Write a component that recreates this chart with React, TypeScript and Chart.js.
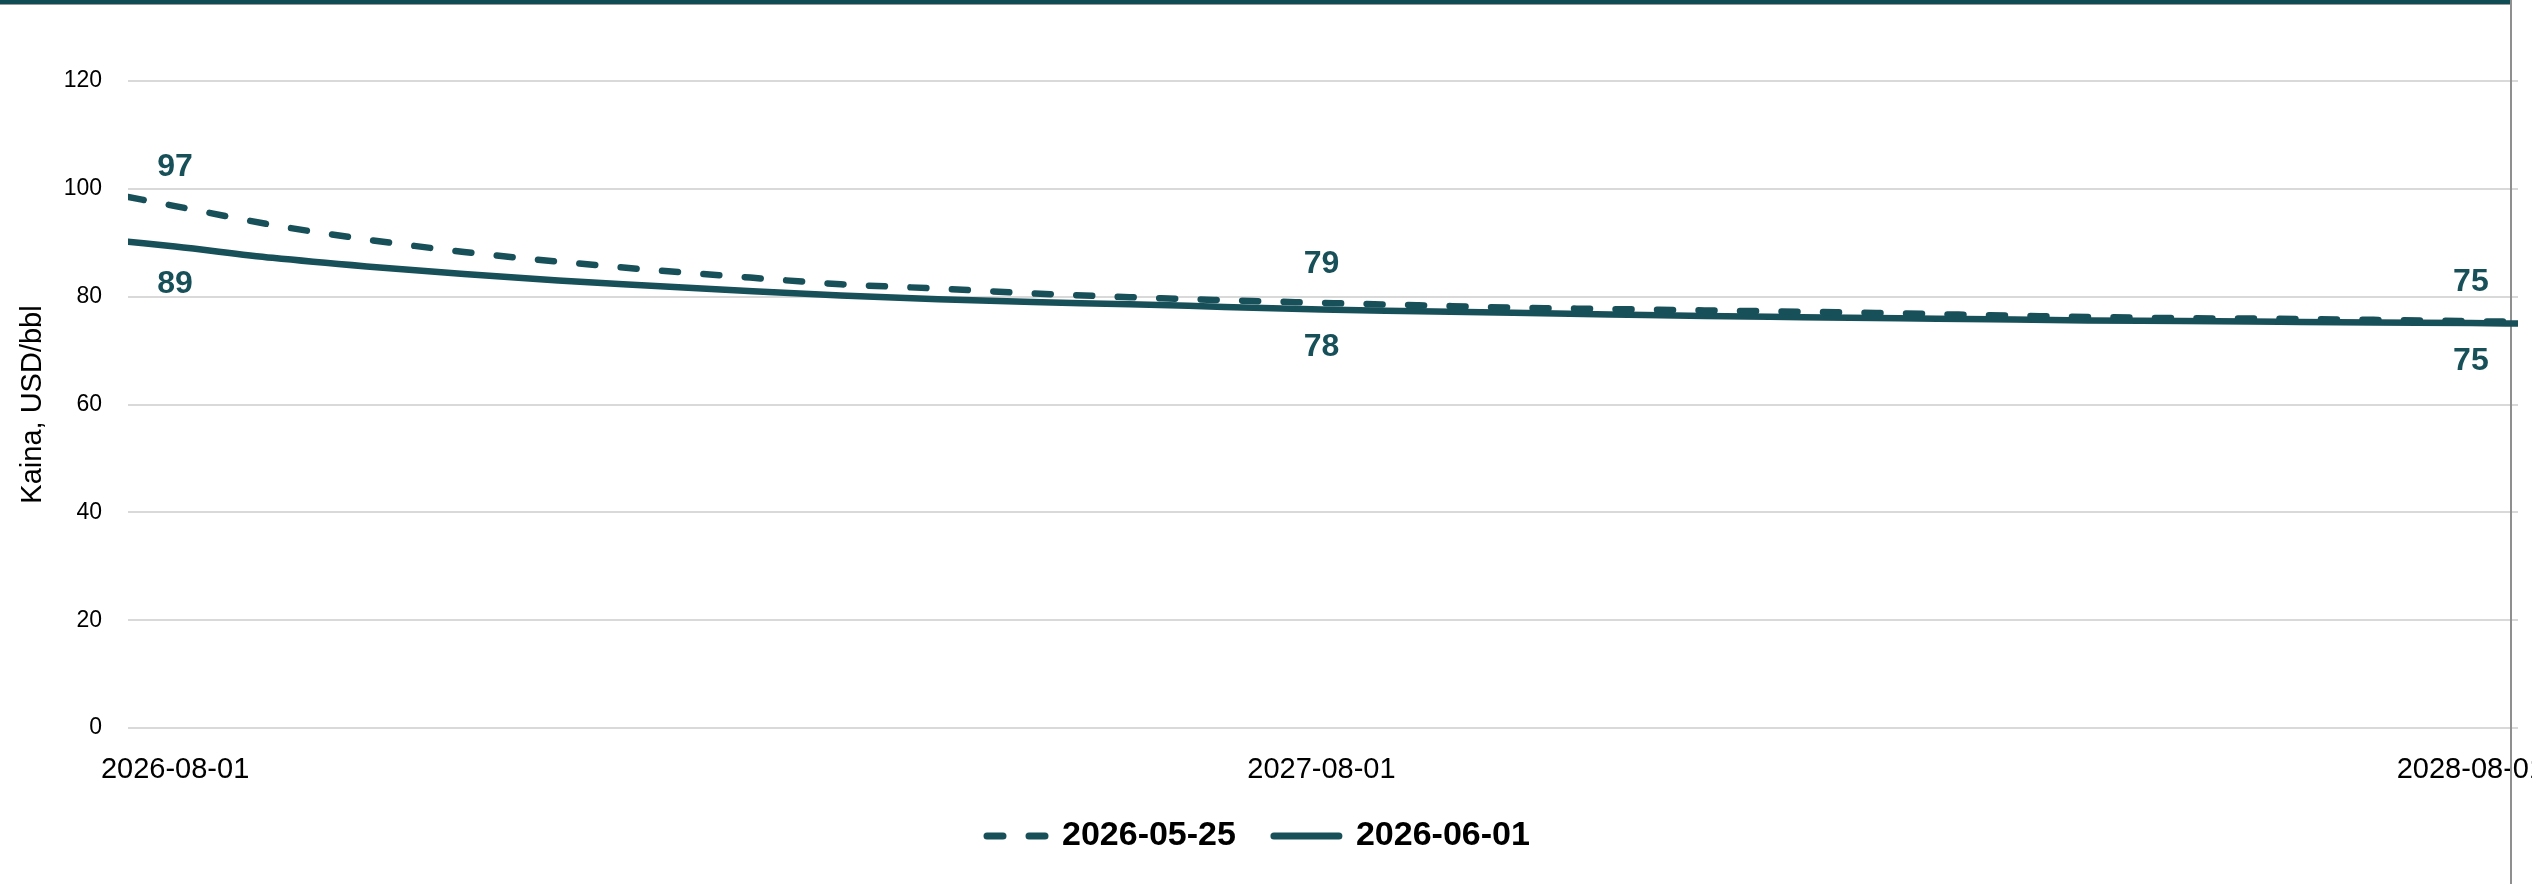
import React, { useEffect, useRef } from "react";
import { Chart, registerables } from "chart.js";

Chart.register(...registerables);

// ---- data ----
const dates = [
  "2026-07-17",
  "2026-08-01", "2026-09-01", "2026-10-01", "2026-11-01", "2026-12-01",
  "2027-01-01", "2027-02-01", "2027-03-01", "2027-04-01", "2027-05-01", "2027-06-01", "2027-07-01",
  "2027-08-01", "2027-09-01", "2027-10-01", "2027-11-01", "2027-12-01",
  "2028-01-01", "2028-02-01", "2028-03-01", "2028-04-01", "2028-05-01", "2028-06-01", "2028-07-01",
  "2028-08-01", "2028-08-16",
];

const series0525 = [
  98.5, 96.8, 93.3, 90.6, 88.3, 86.5, 84.9, 83.5, 82.3, 81.5, 80.6, 79.9, 79.35,
  78.85, 78.4, 77.95, 77.7, 77.45, 77.2, 76.9, 76.55, 76.25, 76.0, 75.9, 75.7,
  75.45, 75.35,
];

const series0601 = [
  90.2, 89.3, 87.2, 85.6, 84.2, 83.0, 82.0, 81.0, 80.2, 79.5, 79.0, 78.6, 78.1,
  77.6, 77.3, 77.0, 76.7, 76.4, 76.2, 76.0, 75.8, 75.6, 75.5, 75.35, 75.2,
  75.1, 75.0,
];

const seriesNames = ["2026-05-25", "2026-06-01"];
const xTickDates = ["2026-08-01", "2027-08-01", "2028-08-01"];
const labelDates = ["2026-08-01", "2027-08-01", "2028-08-01"];
const yTitle = "Kaina, USD/bbl";

// ---- styles ----
const W = 2532;
const H = 884;
const TEAL = "#18505A";
const FONT = '"Liberation Sans", Arial, sans-serif';

const toDay = (d: string) => Math.round(Date.parse(d) / 86400000);
const fromDay = (v: number) => new Date(Math.round(v) * 86400000).toISOString().slice(0, 10);

const valueLabelOffsets = [-39, 38];
const legendDashes: number[][] = [[16, 26], []];
const legendDashOffsets = [35, 0];

const decorPlugin = {
  id: "decor",
  beforeDraw(chart: any) {
    const ctx = chart.ctx;
    ctx.save();
    ctx.fillStyle = "#ffffff";
    ctx.fillRect(0, 0, chart.width, chart.height);
    ctx.fillStyle = "#0F4C53";
    ctx.fillRect(0, 0, 2511, 4);
    ctx.fillStyle = "#9a9a9a";
    ctx.fillRect(0, 4, 2511, 1);
    ctx.restore();
  },
  beforeDatasetsDraw(chart: any) {
    const ctx = chart.ctx;
    ctx.save();
    ctx.fillStyle = "#8f8f8f";
    ctx.fillRect(2510, 0, 2, chart.height);
    ctx.restore();
  },
  afterLayout(chart: any) {
    const lg = chart.legend;
    if (lg) {
      const w = lg.right - lg.left;
      lg.left = 942;
      lg.right = 942 + w;
    }
  },
};

const valueLabelPlugin = {
  id: "valueLabels",
  afterDatasetsDraw(chart: any) {
    const ctx = chart.ctx;
    ctx.save();
    ctx.font = `bold 32px ${FONT}`;
    ctx.fillStyle = TEAL;
    ctx.textAlign = "center";
    ctx.textBaseline = "middle";
    chart.data.datasets.forEach((ds: any, di: number) => {
      const meta = chart.getDatasetMeta(di);
      labelDates.forEach((d) => {
        const idx = dates.indexOf(d);
        const pt = meta.data[idx];
        if (!pt) return;
        const v = ds.data[idx].y;
        ctx.fillText(String(Math.round(v)), pt.x, pt.y + valueLabelOffsets[di]);
      });
    });
    ctx.restore();
  },
};

export default function App() {
  const ref = useRef<HTMLCanvasElement>(null);

  useEffect(() => {
    const canvas = ref.current;
    if (!canvas) return;
    const chart = new Chart(canvas, {
      type: "line",
      data: {
        datasets: [
          {
            label: seriesNames[0],
            data: dates.map((d, i) => ({ x: toDay(d), y: series0525[i] })),
            borderColor: TEAL,
            backgroundColor: TEAL,
            borderWidth: 6.5,
            borderDash: [16, 25.5],
            borderCapStyle: "round",
            pointRadius: 0,
            cubicInterpolationMode: "monotone",
            fill: false,
          },
          {
            label: seriesNames[1],
            data: dates.map((d, i) => ({ x: toDay(d), y: series0601[i] })),
            borderColor: TEAL,
            backgroundColor: TEAL,
            borderWidth: 6.5,
            borderCapStyle: "round",
            pointRadius: 0,
            cubicInterpolationMode: "monotone",
            fill: false,
          },
        ],
      },
      options: {
        responsive: false,
        animation: false,
        devicePixelRatio: 1,
        layout: { padding: { left: 0, top: 81, right: 14, bottom: 21 } },
        scales: {
          x: {
            type: "linear",
            bounds: "data",
            min: toDay(dates[0]),
            max: toDay(dates[dates.length - 1]),
            grid: { display: false, drawTicks: false },
            border: { display: false },
            afterBuildTicks: (s: any) => {
              s.ticks = xTickDates.map((d) => ({ value: toDay(d) }));
            },
            afterFit: (s: any) => {
              s.height = 53;
              s.paddingLeft = 0;
              s.paddingRight = 0;
            },
            ticks: {
              autoSkip: false,
              maxRotation: 0,
              minRotation: 0,
              padding: 25,
              color: "#000",
              font: { family: FONT, size: 29 },
              callback: (v: any) => fromDay(Number(v)),
            },
          },
          y: {
            min: 0,
            max: 120,
            grid: { color: "#d9d9d9", lineWidth: 2, drawTicks: false },
            border: { display: false },
            afterFit: (s: any) => {
              s.width = 128;
            },
            ticks: {
              stepSize: 20,
              padding: 26,
              color: "#000",
              font: { family: FONT, size: 23 },
            },
            title: {
              display: true,
              text: yTitle,
              color: "#000",
              font: { family: FONT, size: 29 },
              padding: { top: 16, bottom: 0 },
            },
          },
        },
        plugins: {
          legend: {
            display: true,
            position: "bottom",
            align: "start",
            labels: {
              usePointStyle: true,
              pointStyle: "line",
              pointStyleWidth: 65,
              padding: 38,
              color: "#000",
              font: { family: FONT, size: 34, weight: "bold" },
              generateLabels: (c: any) => {
                const items = (Chart as any).defaults.plugins.legend.labels.generateLabels(c);
                items.forEach((it: any, i: number) => {
                  it.lineWidth = 7;
                  it.lineDash = legendDashes[i] || [];
                  it.lineDashOffset = legendDashOffsets[i] || 0;
                  it.lineCap = "round";
                  it.pointStyle = "line";
                  it.strokeStyle = TEAL;
                  it.fontColor = "#000";
                });
                return items;
              },
            },
          },
          tooltip: { enabled: false },
        },
      },
      plugins: [decorPlugin, valueLabelPlugin],
    } as any);
    return () => chart.destroy();
  }, []);

  return (
    <div style={{ position: "absolute", left: 0, top: 0, width: W, height: H, background: "#fff" }}>
      <canvas ref={ref} width={W} height={H} style={{ display: "block", width: W, height: H }} />
    </div>
  );
}
